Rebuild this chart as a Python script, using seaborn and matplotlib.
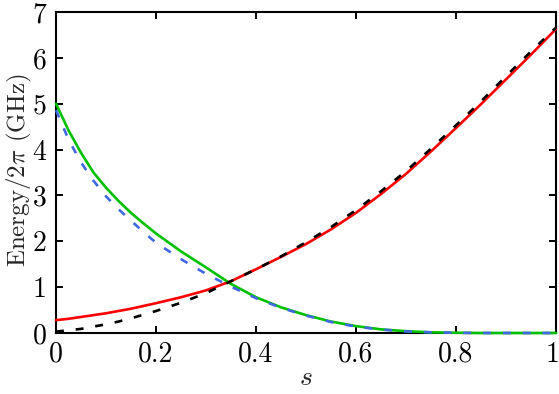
import matplotlib
matplotlib.use("Agg")
import matplotlib.pyplot as plt
import matplotlib.transforms as mtrans
import seaborn as sns
import pandas as pd

# values
s_vals = [0, 0.025, 0.05, 0.075, 0.1, 0.125, 0.15, 0.175, 0.2, 0.25, 0.3, 0.35, 0.4,
          0.45, 0.5, 0.55, 0.6, 0.65, 0.7, 0.75, 0.8, 0.85, 0.9, 0.95, 1.0]
red_solid = [0.28, 0.31, 0.35, 0.39, 0.43, 0.48, 0.53, 0.59, 0.65, 0.78, 0.93, 1.13, 1.39,
             1.66, 1.94, 2.26, 2.62, 3.03, 3.47, 3.96, 4.47, 4.99, 5.53, 6.07, 6.63]
black_dash = [0.03, 0.06, 0.09, 0.14, 0.19, 0.25, 0.32, 0.40, 0.48, 0.66, 0.87, 1.13, 1.39,
              1.67, 1.98, 2.31, 2.68, 3.09, 3.53, 4.02, 4.53, 5.05, 5.60, 6.14, 6.66]
green_solid = [5.0, 4.42, 3.93, 3.50, 3.17, 2.88, 2.62, 2.39, 2.17, 1.78, 1.43, 1.07, 0.78,
               0.56, 0.39, 0.25, 0.15, 0.08, 0.04, 0.015, 0.005, 0.0, 0.0, 0.0, 0.0]
blue_dash = [4.86, 4.22, 3.72, 3.32, 2.98, 2.70, 2.45, 2.20, 1.97, 1.61, 1.29, 1.01, 0.76,
             0.55, 0.38, 0.24, 0.14, 0.075, 0.035, 0.015, 0.005, 0.0, 0.0, 0.0, 0.0]

x_ticks = [0, 0.2, 0.4, 0.6, 0.8, 1]
x_labels = ["0", "0.2", "0.4", "0.6", "0.8", "1"]
y_ticks = [0, 1, 2, 3, 4, 5, 6, 7]
y_labels = ["0", "1", "2", "3", "4", "5", "6", "7"]

df = pd.DataFrame({"s": s_vals, "red": red_solid, "black": black_dash,
                   "green": green_solid, "blue": blue_dash})

sns.set_theme(style="ticks")
plt.rcParams["font.family"] = ["cmr10", "DejaVu Serif"]
plt.rcParams["mathtext.fontset"] = "cm"
plt.rcParams["axes.formatter.use_mathtext"] = True

fig = plt.figure(figsize=(5.59, 3.94), dpi=100)
ax = fig.add_axes([0.1002, 0.1548, 0.8944, 0.8147])

lw = 1.9
sns.lineplot(data=df, x="s", y="red", color="#ff0000", lw=lw, ax=ax, clip_on=False, zorder=3)
sns.lineplot(data=df, x="s", y="green", color="#00c000", lw=lw, ax=ax, clip_on=False, zorder=3)
sns.lineplot(data=df, x="s", y="black", color="black", lw=lw, ax=ax, clip_on=False,
             zorder=4, linestyle=(0, (3, 4.5)))
sns.lineplot(data=df, x="s", y="blue", color="#4169e1", lw=lw, ax=ax, clip_on=False,
             zorder=4, linestyle=(0, (3, 4.5)))

ax.set_xlim(0, 1)
ax.set_ylim(0, 7)
ax.set_xticks(x_ticks)
ax.set_xticklabels(x_labels)
ax.set_yticks(y_ticks)
ax.set_yticklabels(y_labels)
ax.tick_params(direction="in", length=5, width=1.4, top=True, right=True,
               labelsize=20, colors="black")
ax.tick_params(axis="x", pad=6)
ax.tick_params(axis="y", pad=7)
for sp in ax.spines.values():
    sp.set_linewidth(1.5)
    sp.set_color("black")
    sp.set_visible(True)

# nudge the last x label so it stays inside the canvas
last = ax.get_xticklabels()[-1]
last.set_transform(last.get_transform() + mtrans.ScaledTranslation(-3 / 100, 0, fig.dpi_scale_trans))

ax.set_xlabel(r"$s$", fontsize=20)
ax.set_ylabel(r"Energy$/2\pi$ (GHz)", fontsize=18)
ax.xaxis.set_label_coords(0.5, -0.1)
ax.yaxis.set_label_coords(-0.045, 0.508)

fig.savefig("out.png", dpi=100)
